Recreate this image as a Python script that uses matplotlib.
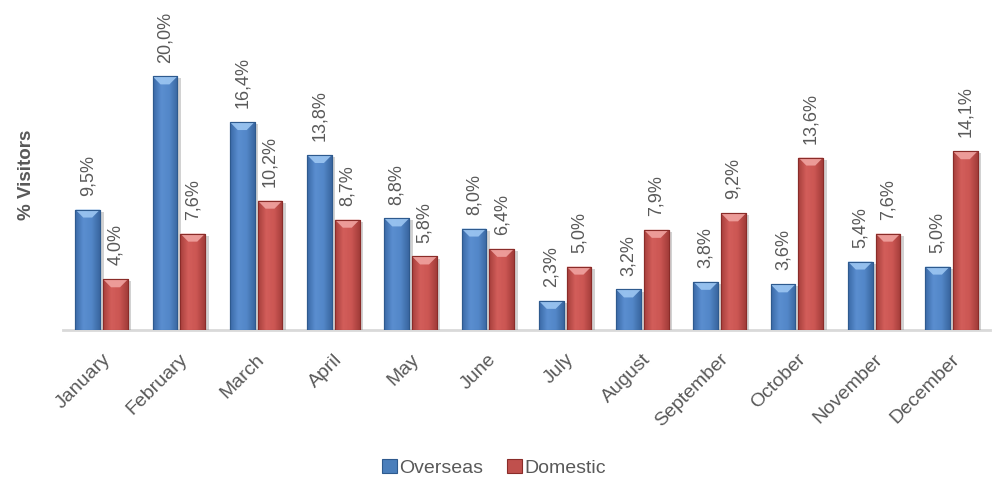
import numpy as np
import matplotlib
matplotlib.use("Agg")
import matplotlib.pyplot as plt
from matplotlib.patches import Patch, Polygon
from matplotlib.colors import LinearSegmentedColormap
import matplotlib.patheffects as pe

months = ["January", "February", "March", "April", "May", "June", "July",
          "August", "September", "October", "November", "December"]
overseas = [9.5, 20.0, 16.4, 13.8, 8.8, 8.0, 2.3, 3.2, 3.8, 3.6, 5.4, 5.0]
domestic = [4.0, 7.6, 10.2, 8.7, 5.8, 6.4, 5.0, 7.9, 9.2, 13.6, 7.6, 14.1]
series_names = ["Overseas", "Domestic"]

plt.rcParams['font.family'] = ['Liberation Sans', 'DejaVu Sans']
TXT = '#595959'

fig = plt.figure(figsize=(9.94, 4.84), dpi=100)
ax = fig.add_axes([63/994, 154/484, 927/994, 317/484])

x = np.arange(len(months))
w = 0.32
off = 0.18

styles = {
    "Overseas": dict(base='#4A7EBB', grad=['#3A69A6', '#5A8ED0', '#5387C8', '#3A66A0'],
                     edge='#2E5A8E', light='#9CC6F2'),
    "Domestic": dict(base='#C0504D', grad=['#A63F3C', '#D35E5A', '#CB5653', '#A23C39'],
                     edge='#8A2C29', light='#F0A3A0'),
}

ax.set_xlim(-0.5, len(months) - 0.5)
ax.set_ylim(0, 25)

px_per_unit = 317 / 25.0
bevel_h = 8 / px_per_unit

for vals, name, sign in [(overseas, "Overseas", -1), (domestic, "Domestic", 1)]:
    st = styles[name]
    cmap = LinearSegmentedColormap.from_list(name, st['grad'])
    grad = np.linspace(0, 1, 64).reshape(1, -1)
    bars = ax.bar(x + sign * off, vals, width=w, color=st['base'],
                  edgecolor=st['edge'], linewidth=0.8, zorder=2)
    for b, v in zip(bars, vals):
        b.set_path_effects([pe.SimplePatchShadow(offset=(2.5, -1.5), shadow_rgbFace='#7f7f7f', alpha=0.35),
                            pe.Normal()])
        x0 = b.get_x(); x1 = x0 + b.get_width()
        im = ax.imshow(grad, cmap=cmap, extent=(x0, x1, 0, v), aspect='auto',
                       zorder=2.5, interpolation='bicubic')
        im.set_clip_path(b)
        bw = x1 - x0
        tri = Polygon([[x0, v], [x1, v], [x1 - bw * 0.32, v - bevel_h], [x0 + bw * 0.32, v - bevel_h]],
                      closed=True, facecolor=st['light'], edgecolor='none', alpha=0.9, zorder=2.7)
        ax.add_patch(tri)
        ax.add_patch(Polygon([[x0, v], [x1, v], [x1, 0], [x0, 0]], closed=True, fill=False,
                             edgecolor=st['edge'], linewidth=0.8, zorder=2.8))
        ax.annotate(f"{v:.1f}%".replace('.', ','), xy=(b.get_x() + bw / 2, v),
                    xytext=(0, 10), textcoords='offset points', rotation=90,
                    ha='center', va='bottom', fontsize=13, color=TXT, clip_on=False)

for s in ['top', 'right', 'left']:
    ax.spines[s].set_visible(False)
ax.spines['bottom'].set_color('#D9D9D9')
ax.spines['bottom'].set_linewidth(2)
ax.spines['bottom'].set_zorder(1)
ax.set_yticks([])
ax.set_xticks(x)
ax.set_xticklabels(months, rotation=45, ha='right', va='top', rotation_mode='anchor',
                   fontsize=14, color=TXT)
ax.tick_params(axis='x', length=0, pad=15)

fig.text(27/994, 1 - 175/484, "% Visitors", rotation=90, ha='center', va='center',
         fontsize=13.5, fontweight='bold', color=TXT)

handles = [Patch(facecolor=styles[n]['base'], edgecolor=styles[n]['edge'], linewidth=0.8)
           for n in series_names]
fig.legend(handles, series_names, loc='center', bbox_to_anchor=(494/994, 1 - 468/484),
           ncol=2, frameon=False, fontsize=14, handlelength=0.75, handleheight=0.75,
           handletextpad=0.15, columnspacing=1.2, labelcolor=TXT)

fig.savefig("out.png", dpi=100)
